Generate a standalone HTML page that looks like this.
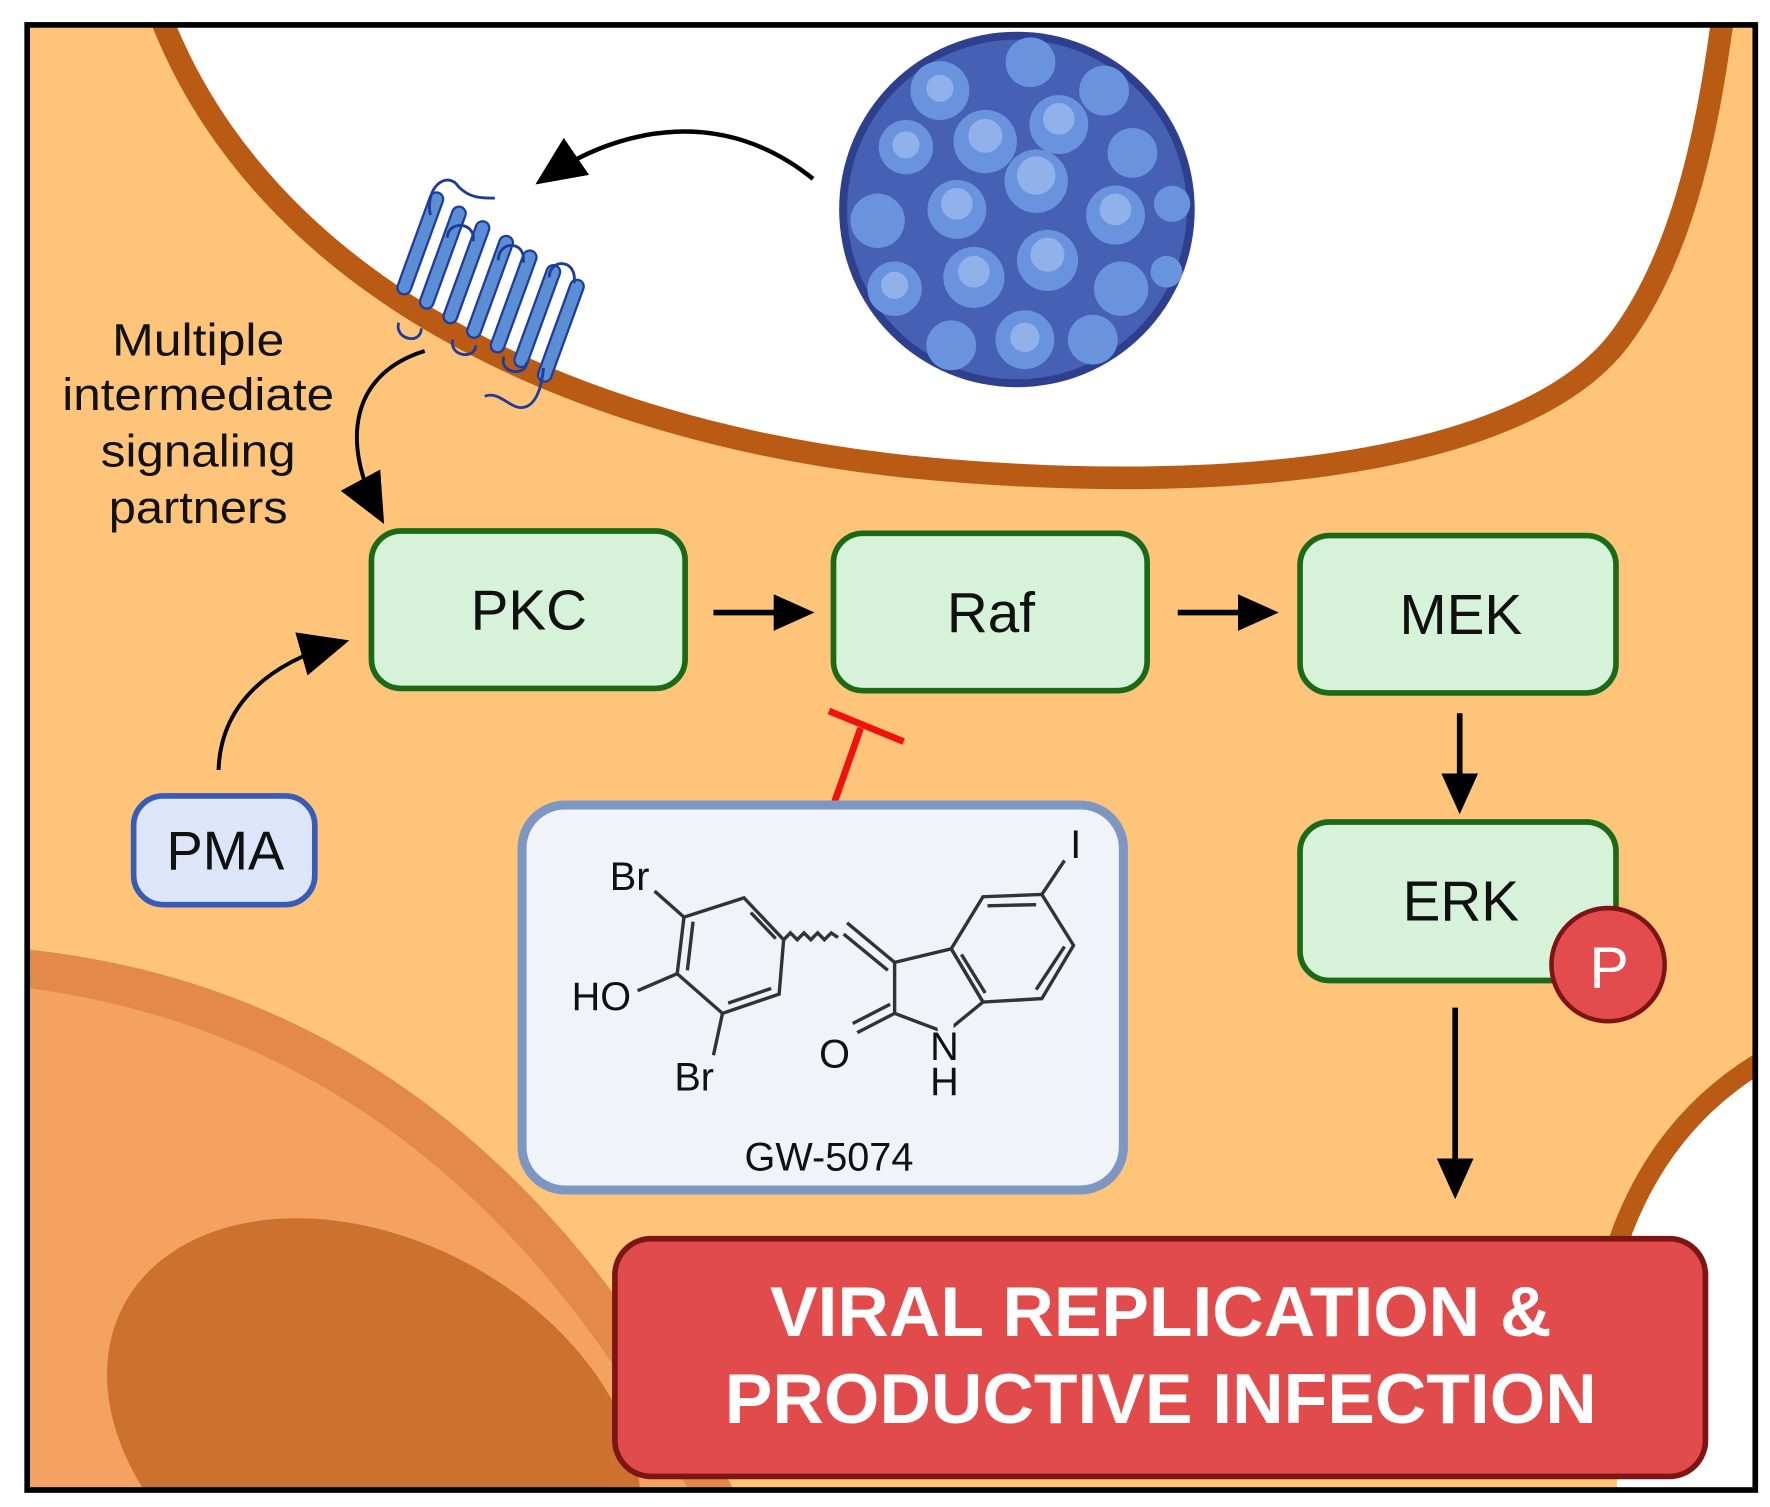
<!DOCTYPE html>
<html><head><meta charset="utf-8"><style>
html,body{margin:0;padding:0;background:#fff;width:1770px;height:1507px;overflow:hidden;}
svg{display:block;}
text{font-family:"Liberation Sans",sans-serif;}
</style></head><body>
<svg width="1770" height="1507" viewBox="0 0 1563 1331" preserveAspectRatio="none" xmlns="http://www.w3.org/2000/svg">
<defs>
<clipPath id="cl"><rect x="26" y="24" width="1522" height="1290"/></clipPath>
<marker id="ah" viewBox="0 0 10 10" refX="8" refY="5" markerWidth="36" markerHeight="36" markerUnits="userSpaceOnUse" orient="auto"><path d="M0,0.5 L10,5 L0,9.5 Z" fill="#000"/></marker>
<marker id="ah2" viewBox="0 0 10 10" refX="8" refY="5" markerWidth="44" markerHeight="44" markerUnits="userSpaceOnUse" orient="auto"><path d="M0,0.5 L10,5 L0,9.5 Z" fill="#000"/></marker>
</defs>
<rect x="0" y="0" width="1563" height="1331" fill="#fff"/>
<g clip-path="url(#cl)">
<rect x="20" y="20" width="1540" height="1300" fill="#FEC57A"/>
<path d="M140,10 C230,250 500,380 800,412 C1100,442 1350,405 1430,300 C1490,220 1510,100 1522,10 Z" fill="#fff" stroke="#B95B14" stroke-width="20"/>
<path d="M20,838 Q430,880 650,1320 L20,1320 Z" fill="#E3894A"/>
<path d="M20,872 Q400,920 610,1320 L20,1320 Z" fill="#F4A262"/>
<ellipse cx="330" cy="1270" rx="250" ry="175" transform="rotate(28 330 1270)" fill="#CD722E"/>
<path d="M1428,1100 Q1465,990 1560,935 L1560,1320 L1428,1320 Z" fill="#fff"/>
<path d="M1428,1100 Q1465,990 1560,935" fill="none" stroke="#B95B14" stroke-width="18"/>
</g>
<rect x="24" y="22" width="1526" height="1294" fill="none" stroke="#000" stroke-width="5"/>

<g>
<circle cx="898" cy="185" r="157" fill="#2E3F8E"/>
<circle cx="898" cy="185" r="150" fill="#4660B4"/>
<g fill="#6A93DD">
<circle cx="830" cy="80" r="26"/><circle cx="910" cy="55" r="22"/><circle cx="975" cy="80" r="22"/>
<circle cx="800" cy="130" r="24"/><circle cx="870" cy="125" r="28"/><circle cx="935" cy="110" r="26"/><circle cx="1000" cy="135" r="22"/>
<circle cx="775" cy="195" r="24"/><circle cx="845" cy="185" r="26"/><circle cx="915" cy="160" r="28"/><circle cx="985" cy="190" r="26"/><circle cx="1035" cy="180" r="16"/>
<circle cx="790" cy="255" r="24"/><circle cx="860" cy="245" r="27"/><circle cx="925" cy="230" r="27"/><circle cx="990" cy="255" r="24"/>
<circle cx="840" cy="305" r="22"/><circle cx="905" cy="300" r="26"/><circle cx="965" cy="300" r="22"/><circle cx="1030" cy="240" r="14"/>
</g>
<g fill="#90B1EA">
<circle cx="870" cy="120" r="15"/><circle cx="935" cy="105" r="14"/><circle cx="845" cy="180" r="14"/><circle cx="915" cy="155" r="17"/><circle cx="985" cy="185" r="14"/><circle cx="860" cy="240" r="14"/><circle cx="925" cy="225" r="15"/><circle cx="800" cy="128" r="12"/><circle cx="905" cy="298" r="13"/><circle cx="790" cy="252" r="12"/><circle cx="830" cy="78" r="12"/>
</g>
</g>
<path d="M718,158 C640,95 550,110 480,158" fill="none" stroke="#000" stroke-width="4" marker-end="url(#ah2)"/>

<g fill="#5B8ED4" stroke="#1E3C99" stroke-width="2">
<g transform="rotate(20 430 255)">
<rect x="355" y="190" width="12" height="95" rx="6"/>
<rect x="378" y="195" width="12" height="95" rx="6"/>
<rect x="402" y="200" width="12" height="95" rx="6"/>
<rect x="426" y="205" width="12" height="95" rx="6"/>
<rect x="450" y="210" width="12" height="95" rx="6"/>
<rect x="474" y="215" width="12" height="95" rx="6"/>
<rect x="498" y="220" width="12" height="95" rx="6"/>
</g>
</g>
<g fill="none" stroke="#1E3C99" stroke-width="2.5">
<path d="M380,190 C375,165 395,150 405,165 C415,175 425,175 437,175"/>
<path d="M428,350 C440,345 450,360 460,360 C472,360 478,345 480,325"/>
<path d="M395,210 C395,195 420,195 418,213"/>
<path d="M440,230 C440,212 465,212 462,232"/>
<path d="M485,245 C485,228 510,228 507,250"/>
<path d="M352,285 C348,300 372,305 372,290"/>
<path d="M400,300 C396,315 420,318 420,305"/>
<path d="M445,315 C440,330 465,333 465,320"/>
</g>

<g font-size="40" fill="#111" text-anchor="middle">
<text x="175" y="314" textLength="152" lengthAdjust="spacingAndGlyphs">Multiple</text>
<text x="175" y="362" textLength="240" lengthAdjust="spacingAndGlyphs">intermediate</text>
<text x="175" y="412" textLength="172" lengthAdjust="spacingAndGlyphs">signaling</text>
<text x="175" y="462" textLength="158" lengthAdjust="spacingAndGlyphs">partners</text>
</g>
<path d="M375,310 C310,330 300,390 335,455" fill="none" stroke="#000" stroke-width="3.5" marker-end="url(#ah2)"/>
<path d="M193,680 C195,620 240,585 300,568" fill="none" stroke="#000" stroke-width="3.5" marker-end="url(#ah2)"/>

<g fill="#D6F2D8" stroke="#1C6A18" stroke-width="5">
<rect x="328" y="469" width="277" height="139" rx="26"/>
<rect x="736" y="471" width="277" height="139" rx="26"/>
<rect x="1148" y="473" width="279" height="139" rx="26"/>
<rect x="1148" y="726" width="279" height="140" rx="26"/>
</g>
<g font-size="50" fill="#111" text-anchor="middle">
<text x="467" y="556">PKC</text>
<text x="875" y="558">Raf</text>
<text x="1290" y="560">MEK</text>
<text x="1290" y="813">ERK</text>
</g>
<circle cx="1420" cy="852" r="50" fill="#E24C4C" stroke="#7D1313" stroke-width="4"/>
<text x="1421" y="872" font-size="52" fill="#fff" text-anchor="middle">P</text>

<g stroke="#000" stroke-width="5" marker-end="url(#ah)">
<line x1="630" y1="541" x2="712" y2="541"/>
<line x1="1040" y1="541" x2="1122" y2="541"/>
<line x1="1289" y1="630" x2="1289" y2="712"/>
<line x1="1285" y1="890" x2="1285" y2="1052"/>
</g>

<rect x="118" y="703" width="160" height="96" rx="26" fill="#DCE6F8" stroke="#3A5BB5" stroke-width="5"/>
<text x="199" y="768" font-size="48" fill="#111" text-anchor="middle">PMA</text>

<g stroke="#F0120E" stroke-width="6">
<line x1="737" y1="708" x2="760" y2="643"/>
<line x1="732" y1="628" x2="798" y2="655"/>
</g>

<rect x="461" y="711" width="531" height="340" rx="38" fill="#F0F3F8" stroke="#7E97C2" stroke-width="8"/>
<g stroke="#333" stroke-width="3" fill="none">
<polygon points="657,793 692,830 688,878 638,895 598,860 604,810"/>
<line x1="663" y1="806" x2="685" y2="829"/>
<line x1="681" y1="873" x2="643" y2="886"/>
<line x1="607" y1="857" x2="612" y2="814"/>
<line x1="604" y1="810" x2="578" y2="787"/>
<line x1="598" y1="860" x2="563" y2="875"/>
<line x1="638" y1="895" x2="630" y2="932"/>
<path d="M692,830 l6,-6 l6,6 l6,-6 l6,6 l6,-6 l6,6 l6,-6 l6,4"/>
<line x1="748" y1="815" x2="790" y2="850"/>
<line x1="745" y1="825" x2="784" y2="857"/>
<polygon points="790,850 840,838 868,885 835,912 790,895"/>
<polygon points="840,838 868,792 920,790 948,835 920,882 868,885"/>
<line x1="872" y1="800" x2="915" y2="799"/>
<line x1="940" y1="836" x2="915" y2="874"/>
<line x1="849" y1="843" x2="870" y2="877"/>
<line x1="920" y1="790" x2="940" y2="760"/>
<line x1="790" y1="895" x2="757" y2="912"/>
<line x1="786" y1="887" x2="753" y2="904"/>
</g>
<rect x="828" y="897" width="14" height="22" fill="#F0F3F8"/>
<g font-size="35" fill="#111" text-anchor="middle">
<text x="556" y="786">Br</text>
<text x="531" y="892">HO</text>
<text x="613" y="963">Br</text>
<text x="737" y="943">O</text>
<text x="834" y="936">N</text>
<text x="834" y="967">H</text>
<text x="950" y="758">I</text>
<text x="732" y="1034">GW-5074</text>
</g>

<rect x="543" y="1094" width="963" height="210" rx="32" fill="#E24B4C" stroke="#7D1515" stroke-width="5"/>
<g font-size="62" font-weight="bold" fill="#fff" text-anchor="middle">
<text x="1025" y="1180" textLength="690" lengthAdjust="spacingAndGlyphs">VIRAL REPLICATION &amp;</text>
<text x="1025" y="1257" textLength="770" lengthAdjust="spacingAndGlyphs">PRODUCTIVE INFECTION</text>
</g>
</svg>
</body></html>
